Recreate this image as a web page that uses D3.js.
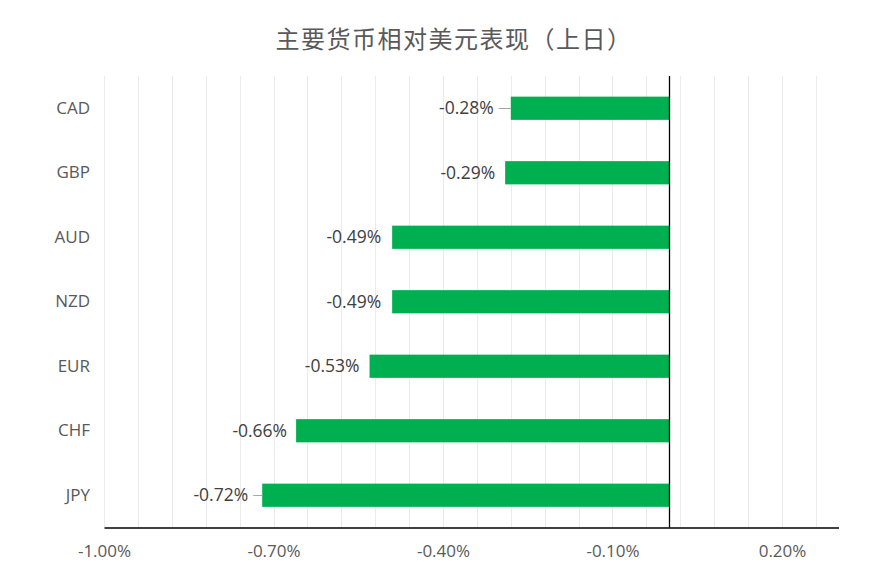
<!DOCTYPE html>
<html>
<head>
<meta charset="utf-8">
<script src="https://cdn.jsdelivr.net/npm/d3@7"></script>
<style>
  html, body { margin: 0; padding: 0; background: #fff; }
  svg { display: block; }
</style>
</head>
<body>
<svg id="chart" width="881" height="584"></svg>
<script>
const titleText = "主要货币相对美元表现（上日）";
const categories = ["CAD", "GBP", "AUD", "NZD", "EUR", "CHF", "JPY"];
const values = [-0.28, -0.29, -0.49, -0.49, -0.53, -0.66, -0.72];
const valueLabels = ["-0.28%", "-0.29%", "-0.49%", "-0.49%", "-0.53%", "-0.66%", "-0.72%"];
const tickValues = [-1.0, -0.7, -0.4, -0.1, 0.2];
const tickLabels = ["-1.00%", "-0.70%", "-0.40%", "-0.10%", "0.20%"];
const axisMin = -1.0, axisMax = 0.3, gridStep = 0.06;

(function () {
// label layout tweaks (pixels, not data)
const labelGap = { CAD: 17, GBP: 10, AUD: 11, NZD: 11, EUR: 10, CHF: 9, JPY: 14 };
const leader = { CAD: true, JPY: true };

const svg = d3.select("#chart");
const pl = 104, pr = 838.5, pt = 76, pb = 527.5;
const latin = "'Open Sans', 'Liberation Sans', sans-serif";
const textColor = "#595959";

const x = d3.scaleLinear().domain([axisMin, axisMax]).range([pl, pr]);
const y = d3.scaleBand().domain(categories).range([pt, pb])
  .paddingInner(0.64).paddingOuter(0.32);

// Title
svg.append("text")
  .attr("x", 454).attr("y", 48)
  .attr("text-anchor", "middle")
  .attr("font-family", "'Noto Sans CJK SC', sans-serif")
  .attr("font-size", 24)
  .attr("letter-spacing", 1.5)
  .attr("fill", textColor)
  .text(titleText);

// Gridlines
const gridVals = d3.range(axisMin, axisMax - 1e-9, gridStep);
svg.append("g").selectAll("line").data(gridVals).join("line")
  .attr("x1", d => Math.round(x(d)) + 0.5).attr("x2", d => Math.round(x(d)) + 0.5)
  .attr("y1", pt).attr("y2", pb)
  .attr("stroke", "#ebebeb").attr("stroke-width", 1);

// Bars
svg.append("g").selectAll("rect").data(categories).join("rect")
  .attr("x", (d, i) => x(values[i]))
  .attr("y", d => y(d))
  .attr("width", (d, i) => x(0) - x(values[i]))
  .attr("height", y.bandwidth())
  .attr("fill", "#00b050");

// Zero line
svg.append("line")
  .attr("x1", Math.round(x(0)) + 0.5).attr("x2", Math.round(x(0)) + 0.5)
  .attr("y1", pt).attr("y2", pb)
  .attr("stroke", "#000").attr("stroke-width", 1.3);

// Bottom axis
const xAxis = d3.axisBottom(x).tickValues(tickValues)
  .tickFormat((d, i) => tickLabels[i]).tickSize(0).tickPadding(17);
const gx = svg.append("g").attr("transform", `translate(0,${pb})`).call(xAxis);
gx.select(".domain").attr("stroke", "#000").attr("stroke-width", 1.3);
gx.selectAll("text").attr("font-family", latin).attr("font-size", 17).attr("fill", textColor);

// Category labels
const yAxis = d3.axisLeft(y).tickSize(0).tickPadding(14);
const gy = svg.append("g").attr("transform", `translate(${pl},0)`).call(yAxis);
gy.select(".domain").remove();
gy.selectAll("text").attr("font-family", latin).attr("font-size", 17).attr("fill", textColor);

// Data labels
const lg = svg.append("g");
categories.forEach((c, i) => {
  const cy = y(c) + y.bandwidth() / 2;
  const bx = x(values[i]);
  const tx = bx - labelGap[c];
  lg.append("text")
    .attr("x", tx).attr("y", cy)
    .attr("dy", "0.35em")
    .attr("text-anchor", "end")
    .attr("font-family", latin).attr("font-size", 17.5)
    .attr("fill", "#404040")
    .text(valueLabels[i]);
  if (leader[c]) {
    lg.append("line")
      .attr("x1", tx + 5).attr("x2", bx)
      .attr("y1", Math.round(cy) + 0.5).attr("y2", Math.round(cy) + 0.5)
      .attr("stroke", "#a6a6a6").attr("stroke-width", 1);
  }
});
})();
</script>
</body>
</html>
